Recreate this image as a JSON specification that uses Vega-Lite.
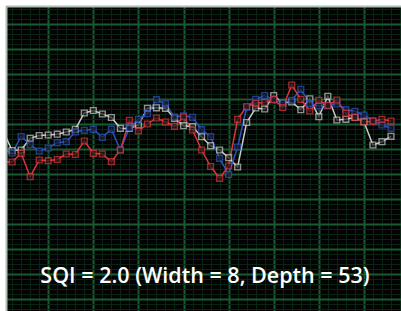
{
  "$schema": "https://vega.github.io/schema/vega-lite/v6.json",
  "width": 395,
  "height": 305,
  "autosize": {"type": "none"},
  "padding": {"left": 6, "top": 6, "right": 0, "bottom": 0},
  "background": "white",
  "config": {"view": {"fill": "#030303", "stroke": null}},
  "datasets": {
    "series": [
      {"s":"gray","k":0,"v":38.6},{"s":"gray","k":1,"v":34.7},{"s":"gray","k":2,"v":34.8},{"s":"gray","k":3,"v":37.14},{"s":"gray","k":4,"v":37.7},{"s":"gray","k":5,"v":37.8},{"s":"gray","k":6,"v":37.96},{"s":"gray","k":7,"v":38.4},{"s":"gray","k":8,"v":38.94},{"s":"gray","k":9,"v":42.2},{"s":"gray","k":10,"v":42.7},{"s":"gray","k":11,"v":42.0},{"s":"gray","k":12,"v":41.3},{"s":"gray","k":13,"v":39.14},{"s":"gray","k":14,"v":39.1},{"s":"gray","k":15,"v":39.8},{"s":"gray","k":16,"v":43.14},{"s":"gray","k":17,"v":43.24},{"s":"gray","k":18,"v":43.14},{"s":"gray","k":19,"v":41.14},{"s":"gray","k":20,"v":39.66},{"s":"gray","k":21,"v":39.46},{"s":"gray","k":22,"v":37.46},{"s":"gray","k":23,"v":35.66},{"s":"gray","k":24,"v":34.8},{"s":"gray","k":25,"v":33.26},{"s":"gray","k":26,"v":31.4},{"s":"gray","k":27,"v":40.3},{"s":"gray","k":28,"v":43.2},{"s":"gray","k":29,"v":43.0},{"s":"gray","k":30,"v":45.7},{"s":"gray","k":31,"v":44.2},{"s":"gray","k":32,"v":44.4},{"s":"gray","k":33,"v":42.86},{"s":"gray","k":34,"v":45.04},{"s":"gray","k":35,"v":41.46},{"s":"gray","k":36,"v":45.54},{"s":"gray","k":37,"v":40.8},{"s":"gray","k":38,"v":40.94},{"s":"gray","k":39,"v":41.34},{"s":"gray","k":40,"v":40.46},{"s":"gray","k":41,"v":35.8},{"s":"gray","k":42,"v":36.46},{"s":"gray","k":43,"v":37.54},
      {"s":"blue","k":0,"v":34.8},{"s":"blue","k":1,"v":34.2},{"s":"blue","k":2,"v":37.5},{"s":"blue","k":3,"v":35.86},{"s":"blue","k":4,"v":34.6},{"s":"blue","k":5,"v":35.2},{"s":"blue","k":6,"v":36.26},{"s":"blue","k":7,"v":36.46},{"s":"blue","k":8,"v":38.4},{"s":"blue","k":9,"v":38.74},{"s":"blue","k":10,"v":38.94},{"s":"blue","k":11,"v":37.34},{"s":"blue","k":12,"v":38.94},{"s":"blue","k":13,"v":34.8},{"s":"blue","k":14,"v":39.26},{"s":"blue","k":15,"v":40.94},{"s":"blue","k":16,"v":42.06},{"s":"blue","k":17,"v":44.86},{"s":"blue","k":18,"v":44.04},{"s":"blue","k":19,"v":41.4},{"s":"blue","k":20,"v":41.64},{"s":"blue","k":21,"v":41.34},{"s":"blue","k":22,"v":38.86},{"s":"blue","k":23,"v":37.46},{"s":"blue","k":24,"v":33.14},{"s":"blue","k":25,"v":29.9},{"s":"blue","k":26,"v":35.4},{"s":"blue","k":27,"v":43.3},{"s":"blue","k":28,"v":44.94},{"s":"blue","k":29,"v":45.7},{"s":"blue","k":30,"v":44.8},{"s":"blue","k":31,"v":44.26},{"s":"blue","k":32,"v":44.74},{"s":"blue","k":33,"v":46.94},{"s":"blue","k":34,"v":44.14},{"s":"blue","k":35,"v":43.6},{"s":"blue","k":36,"v":43.74},{"s":"blue","k":37,"v":44.0},{"s":"blue","k":38,"v":42.86},{"s":"blue","k":39,"v":42.54},{"s":"blue","k":40,"v":41.8},{"s":"blue","k":41,"v":40.7},{"s":"blue","k":42,"v":39.8},{"s":"blue","k":43,"v":39.14},
      {"s":"red","k":0,"v":32.4},{"s":"red","k":1,"v":32.4},{"s":"red","k":2,"v":34.14},{"s":"red","k":3,"v":29.46},{"s":"red","k":4,"v":32.8},{"s":"red","k":5,"v":32.66},{"s":"red","k":6,"v":32.9},{"s":"red","k":7,"v":34.0},{"s":"red","k":8,"v":33.9},{"s":"red","k":9,"v":36.6},{"s":"red","k":10,"v":34.14},{"s":"red","k":11,"v":34.0},{"s":"red","k":12,"v":32.46},{"s":"red","k":13,"v":34.8},{"s":"red","k":14,"v":40.74},{"s":"red","k":15,"v":38.6},{"s":"red","k":16,"v":40.0},{"s":"red","k":17,"v":41.2},{"s":"red","k":18,"v":40.4},{"s":"red","k":19,"v":39.54},{"s":"red","k":20,"v":41.4},{"s":"red","k":21,"v":38.8},{"s":"red","k":22,"v":34.8},{"s":"red","k":23,"v":31.5},{"s":"red","k":24,"v":29.14},{"s":"red","k":25,"v":31.6},{"s":"red","k":26,"v":40.94},{"s":"red","k":27,"v":43.5},{"s":"red","k":28,"v":44.14},{"s":"red","k":29,"v":44.3},{"s":"red","k":30,"v":44.9},{"s":"red","k":31,"v":43.3},{"s":"red","k":32,"v":47.8},{"s":"red","k":33,"v":44.94},{"s":"red","k":34,"v":42.6},{"s":"red","k":35,"v":44.74},{"s":"red","k":36,"v":43.7},{"s":"red","k":37,"v":44.8},{"s":"red","k":38,"v":42.14},{"s":"red","k":39,"v":41.3},{"s":"red","k":40,"v":40.4},{"s":"red","k":41,"v":40.54},{"s":"red","k":42,"v":40.94},{"s":"red","k":43,"v":40.6}
    ]
  },
  "layer": [
    {
      "data": {"name": "series"},
      "mark": {"type": "line", "clip": true, "strokeWidth": 1.5},
      "encoding": {
        "x": {"field": "k", "type": "quantitative",
          "scale": {"domain": [0.32, 44.11], "nice": false, "zero": false},
          "axis": {"orient": "bottom", "values": [1,2,3,4,5,6,7,8,9,10,11,12,13,14,15,16,17,18,19,20,21,22,23,24,25,26,27,28,29,30,31,32,33,34,35,36,37,38,39,40,41,42,43,44],
            "grid": true, "labels": false, "ticks": false, "domain": false, "title": null,
            "gridColor": {"condition": {"test": "datum.value % 5 === 0", "value": "#185a31"}, "value": "#0a2414"},
            "gridWidth": {"condition": {"test": "datum.value % 5 === 0", "value": 2}, "value": 1}}},
        "y": {"field": "v", "type": "quantitative",
          "scale": {"domain": [2.6, 63.6], "nice": false, "zero": false},
          "axis": {"orient": "right", "values": [3,4,5,6,7,8,9,10,11,12,13,14,15,16,17,18,19,20,21,22,23,24,25,26,27,28,29,30,31,32,33,34,35,36,37,38,39,40,41,42,43,44,45,46,47,48,49,50,51,52,53,54,55,56,57,58,59,60,61,62,63],
            "grid": true, "labels": false, "ticks": false, "domain": false, "title": null,
            "gridColor": {"condition": {"test": "datum.value % 5 === 0", "value": "#185a31"}, "value": "#0a2414"},
            "gridWidth": {"condition": {"test": "datum.value % 5 === 0", "value": 2}, "value": 1}}},
        "color": {"field": "s", "type": "nominal",
          "scale": {"domain": ["gray", "blue", "red"], "range": ["#c9cbc9", "#2d52c4", "#e2333b"]},
          "legend": null}
      }
    },
    {
      "data": {"name": "series"},
      "mark": {"type": "point", "shape": "square", "filled": true, "size": 34, "strokeWidth": 1.4, "clip": true},
      "encoding": {
        "x": {"field": "k", "type": "quantitative", "scale": {"domain": [0.32, 44.11], "nice": false, "zero": false}, "axis": null},
        "y": {"field": "v", "type": "quantitative", "scale": {"domain": [2.6, 63.6], "nice": false, "zero": false}, "axis": null},
        "fill": {"value": "#1a1a1a"},
        "stroke": {"field": "s", "type": "nominal",
          "scale": {"domain": ["gray", "blue", "red"], "range": ["#c9cbc9", "#2d52c4", "#e2333b"]},
          "legend": null}
      }
    },
    {
      "data": {"values": [{"label": "SQI = 2.0 (Width = 8, Depth = 53)"}]},
      "mark": {"type": "text", "font": "Open Sans", "fontSize": 21.5, "fontWeight": 600, "color": "white", "align": "center", "baseline": "alphabetic"},
      "encoding": {
        "text": {"field": "label"},
        "x": {"datum": 22.38, "type": "quantitative", "scale": {"domain": [0.32, 44.11], "nice": false, "zero": false},
          "axis": {"orient": "top", "grid": false, "labels": false, "ticks": false, "domain": true, "domainColor": "#adbfb4", "domainWidth": 2, "zindex": 1, "title": null}},
        "y": {"datum": 8.2, "type": "quantitative", "scale": {"domain": [2.6, 63.6], "nice": false, "zero": false},
          "axis": {"orient": "left", "grid": false, "labels": false, "ticks": false, "domain": true, "domainColor": "#adbfb4", "domainWidth": 2, "zindex": 1, "title": null}}
      }
    }
  ],
  "resolve": {"axis": {"x": "independent", "y": "independent"}}
}
